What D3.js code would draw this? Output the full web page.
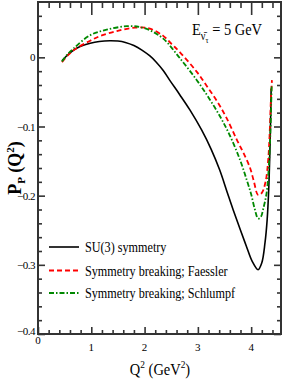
<!DOCTYPE html>
<html>
<head>
<meta charset="utf-8">
<script src="https://cdn.jsdelivr.net/npm/d3@7"></script>
<style>
  body { margin: 0; background: #fff; }
</style>
</head>
<body>
<div id="chart"></div>
<script>
// data
var q2SU3 = [0.45, 0.55, 0.67, 0.8, 0.98, 1.15, 1.35, 1.5, 1.64, 1.8, 1.95, 2.1, 2.22, 2.35, 2.48, 2.66, 2.85, 3.07, 3.25, 3.41, 3.55, 3.66, 3.8, 3.91, 4.02, 4.13, 4.2, 4.26, 4.3, 4.33, 4.35, 4.365, 4.375];
var pSU3 = [-0.005, 0.003, 0.0105, 0.016, 0.0205, 0.023, 0.024, 0.0235, 0.0215, 0.017, 0.0105, 0.002, -0.007, -0.019, -0.034, -0.054, -0.076, -0.105, -0.133, -0.163, -0.195, -0.220, -0.25, -0.273, -0.295, -0.307, -0.297, -0.268, -0.235, -0.19, -0.14, -0.09, -0.045];

var q2Faessler = [0.45, 0.55, 0.7, 0.98, 1.17, 1.48, 1.82, 2.1, 2.35, 2.51, 2.66, 2.98, 3.19, 3.38, 3.54, 3.73, 3.86, 3.98, 4.05, 4.13, 4.2, 4.27, 4.32, 4.35, 4.37, 4.39];
var pFaessler = [-0.007, 0.002, 0.012, 0.024, 0.031, 0.038, 0.043, 0.0415, 0.031, 0.019, 0.0076, -0.021, -0.044, -0.066, -0.088, -0.119, -0.139, -0.160, -0.179, -0.199, -0.196, -0.18, -0.148, -0.105, -0.062, -0.033];

var q2Schlumpf = [0.45, 0.55, 0.67, 0.98, 1.29, 1.67, 1.9, 2.1, 2.35, 2.66, 2.98, 3.2, 3.42, 3.6, 3.79, 3.92, 4.0, 4.07, 4.13, 4.18, 4.23, 4.29, 4.33, 4.36, 4.375, 4.385];
var pSchlumpf = [-0.006, 0.004, 0.013, 0.032, 0.040, 0.045, 0.044, 0.039, 0.027, -0.001, -0.033, -0.058, -0.086, -0.113, -0.148, -0.178, -0.198, -0.220, -0.233, -0.231, -0.218, -0.196, -0.16, -0.11, -0.07, -0.04];

var xTicks = [0, 1, 2, 3, 4];
var yTicks = [0, -0.1, -0.2, -0.3, -0.4];
var legendNames = ["SU(3) symmetry", "Symmetry breaking; Faessler", "Symmetry breaking; Schlumpf"];

var svgWidth = 284, svgHeight = 382;
var margin = {top: 2, right: 3, bottom: 48, left: 38};
var width = svgWidth - margin.left - margin.right;
var height = svgHeight - margin.top - margin.bottom;
var serif = "'Liberation Serif', 'Times New Roman', Times, serif";

var svg = d3.select("#chart").append("svg")
  .attr("width", svgWidth)
  .attr("height", svgHeight)
  .style("font-family", serif);

var g = svg.append("g")
  .attr("transform", `translate(${margin.left}, ${margin.top})`);

var x = d3.scaleLinear().domain([0, 4.56]).range([0, width]);
var y = d3.scaleLinear().domain([-0.4, 0.08]).range([height, 0]);

var axisColor = "#333";

// minor ticks
var xMinor = d3.range(0, 4.56, 0.2).filter(v => Math.abs(v - Math.round(v)) > 1e-6);
var yMinor = d3.range(-0.38, 0.08, 0.02).filter(v => Math.abs(v * 10 - Math.round(v * 10)) > 1e-6);

// bottom
g.append("g").attr("transform", `translate(0,${height})`)
  .call(d3.axisBottom(x).tickValues(xMinor).tickSize(-4).tickFormat(""));
g.append("g").attr("transform", `translate(0,${height})`)
  .call(d3.axisBottom(x).tickValues(xTicks).tickSize(-7).tickFormat(""));
// top
g.append("g")
  .call(d3.axisTop(x).tickValues(xMinor).tickSize(-6).tickFormat(""));
g.append("g")
  .call(d3.axisTop(x).tickValues(xTicks.slice(1)).tickSize(-13).tickFormat(""));
// left
g.append("g")
  .call(d3.axisLeft(y).tickValues(yMinor).tickSize(-4).tickFormat(""));
g.append("g")
  .call(d3.axisLeft(y).tickValues(yTicks).tickSize(-7).tickFormat(""));
// right
g.append("g").attr("transform", `translate(${width},0)`)
  .call(d3.axisRight(y).tickValues(yMinor).tickSize(-4).tickFormat(""));
g.append("g").attr("transform", `translate(${width},0)`)
  .call(d3.axisRight(y).tickValues(yTicks).tickSize(-7).tickFormat(""));

g.selectAll(".domain").remove();
g.selectAll(".tick line").attr("stroke", axisColor).attr("stroke-width", 1.6);

g.append("rect")
  .attr("width", width).attr("height", height)
  .attr("fill", "none").attr("stroke", axisColor).attr("stroke-width", 2);

// tick labels
g.selectAll(".xlab").data(xTicks).enter().append("text")
  .attr("class", "xlab")
  .attr("x", d => x(d))
  .attr("y", d => d === 0 ? height + 10 : height + 17)
  .attr("text-anchor", "middle")
  .attr("font-size", 11)
  .text(d => d);

g.selectAll(".ylab").data(yTicks).enter().append("text")
  .attr("class", "ylab")
  .attr("x", -3)
  .attr("y", d => d === -0.4 ? y(d) + 1 : y(d) + 4)
  .attr("text-anchor", "end")
  .attr("font-size", 11)
  .attr("letter-spacing", -0.5)
  .text(d => d === 0 ? "0" : d3.format(".1f")(d));

// axis titles
var xt = svg.append("text")
  .attr("transform", "translate(160,375) scale(0.85,1)")
  .attr("text-anchor", "middle")
  .attr("font-size", 17);
xt.append("tspan").text("Q");
xt.append("tspan").attr("dy", -7).attr("font-size", 11).text("2");
xt.append("tspan").attr("dy", 7).text(" (GeV");
xt.append("tspan").attr("dy", -7).attr("font-size", 11).text("2");
xt.append("tspan").attr("dy", 7).text(")");

var yt = svg.append("text")
  .attr("transform", "translate(21,168) rotate(-90)")
  .attr("text-anchor", "middle")
  .attr("font-size", 18);
yt.append("tspan").attr("font-weight", "bold").text("P");
yt.append("tspan").attr("dy", 4).attr("font-size", 11).attr("font-weight", "bold").text("P");
yt.append("tspan").attr("dy", -4).attr("font-weight", "bold").text(" (Q");
yt.append("tspan").attr("dy", -7).attr("font-size", 11).attr("font-weight", "bold").text("2");
yt.append("tspan").attr("dy", 7).attr("font-weight", "bold").text(")");

// energy note
var note = svg.append("text")
  .attr("transform", "translate(192,35) scale(0.85,1)")
  .attr("font-size", 17);
note.append("tspan").text("E");
note.append("tspan").attr("dy", 5).attr("font-size", 12).text("\u03BD\u0304");
note.append("tspan").attr("dy", 3).attr("font-size", 9).text("\u03C4");
note.append("tspan").attr("dy", -8).text(" = 5 GeV");

// curves
var series = [
  {q: q2SU3, p: pSU3, color: "#000", dash: null, w: 1.6},
  {q: q2Faessler, p: pFaessler, color: "#f00", dash: "5,3", w: 1.8},
  {q: q2Schlumpf, p: pSchlumpf, color: "#080", dash: "5,2,1.5,2", w: 1.8}
];

var line = d3.line()
  .x(d => x(d[0]))
  .y(d => y(d[1]))
  .curve(d3.curveCatmullRom.alpha(0.5));

series.forEach(function(s) {
  g.append("path")
    .datum(s.q.map((v, i) => [v, s.p[i]]))
    .attr("d", line)
    .attr("fill", "none")
    .attr("stroke", s.color)
    .attr("stroke-width", s.w)
    .attr("stroke-dasharray", s.dash);
});

// legend
var legY = [247, 270.5, 293];
series.forEach(function(s, i) {
  svg.append("line")
    .attr("x1", 49).attr("x2", 79)
    .attr("y1", legY[i]).attr("y2", legY[i])
    .attr("stroke", s.color)
    .attr("stroke-width", s.w)
    .attr("stroke-dasharray", s.dash);
  svg.append("text")
    .attr("transform", `translate(85,${legY[i] + 5}) scale(0.84,1)`)
    .attr("font-size", 14.5)
    .text(legendNames[i]);
});
</script>
</body>
</html>
